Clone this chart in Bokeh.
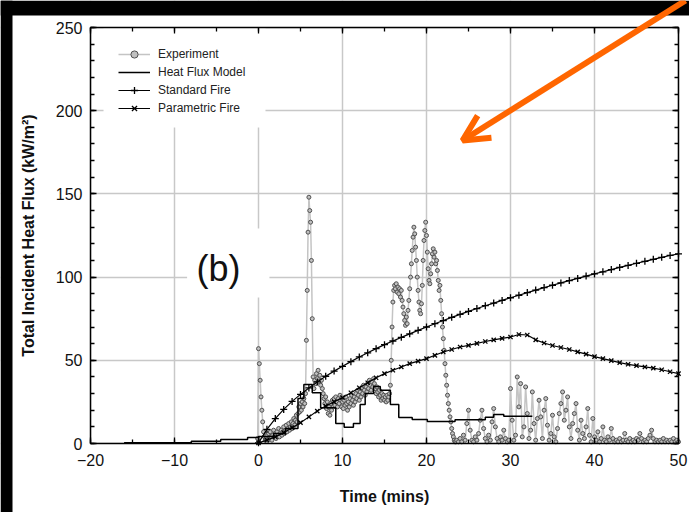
from bokeh.plotting import figure
from bokeh.models import (LinearAxis, Grid, SingleIntervalTicker, Range1d, BoxAnnotation,
                          Arrow, OpenHead, Label, Legend, LegendItem, CustomJSTickFormatter)
from bokeh.embed import file_html
from bokeh.resources import INLINE

# ---------------- data ----------------
# Experiment, part A: sampled every 0.1 min from -0.1 min
exp_a_start, exp_a_step = -0.1, 0.1
exp_a_flux = [3,
    57, 48, 38, 28, 20, 13, 7, 4, 2, 3,
    5, 2, 6, 3, 7, 4, 2, 5, 8, 4,
    6, 3, 7, 5, 9, 4, 6, 8, 5, 7,
    10, 6, 8, 11, 7, 9, 12, 8, 10, 13,
    9, 12, 15, 11, 14, 17, 13, 18, 22, 19,
    24, 20, 25, 22, 27, 24, 30, 62, 92, 127,
    148, 140, 133, 110, 75, 40, 33, 38, 36, 42,
    39, 44, 37, 41, 35, 38, 33, 30, 27, 24,
    28, 21, 25, 18, 22, 17, 24, 20, 26, 22,
    27, 23, 28, 25, 22, 27, 24, 29, 26, 22,
    25, 21, 26, 23, 28, 24, 20, 25, 22, 27,
    24, 29, 26, 23, 28, 25, 30, 27, 32, 29,
    26, 31, 28, 33, 30, 35, 32, 29, 34, 31,
    36, 33, 38, 35, 32, 37, 34, 39, 36, 33,
    30, 34, 31, 28, 32, 29, 26, 30, 27, 29,
    26, 28, 25, 29, 26, 28, 30, 35, 50, 70,
    85, 92, 95, 93, 96, 91, 94, 90, 93, 88,
    92, 86, 82, 78, 74, 71, 76, 72, 80, 86,
    93, 100, 108, 116, 124, 130, 126, 118, 110, 100,
    92, 85, 80, 78, 84, 95, 110, 122, 128, 133,
    125, 115, 105, 98, 96, 102, 108, 114, 117, 112,
    115, 108, 110, 104, 98, 92, 95, 86, 78, 70,
    63, 56, 48, 41, 35, 29, 24, 20, 16, 13,
    9, 6, 4, 2, 1, 1]
# Experiment, part B: sampled every 0.2 min from 23.6 min
exp_b_start, exp_b_step = 23.6, 0.2
exp_b_flux = [
    2, 1, 3, 1, 5, 2, 12, 20, 8, 2,
    1, 4, 2, 6, 14, 20, 9, 3, 1, 5,
    2, 13, 21, 10, 3, 1, 4, 2, 8, 3,
    1, 2, 33, 14, 2, 5, 40, 22, 36, 4,
    10, 34, 18, 3, 8, 31, 12, 2, 15, 26,
    16, 3, 20, 27, 11, 2, 6, 17, 4, 1,
    9, 18, 24, 31, 14, 20, 28, 10, 3, 12,
    18, 24, 8, 2, 14, 6, 3, 10, 21, 5,
    1, 15, 4, 2, 7, 1, 3, 10, 2, 1,
    4, 2, 9, 3, 1, 2, 1, 3, 1, 2,
    6, 2, 1, 3, 1, 2, 1, 3, 2, 6,
    3, 1, 2, 1, 3, 5, 8, 3, 1, 2,
    1, 2, 1, 3, 1, 2, 1, 2, 1, 3,
    1, 2, 1]

model_time = [-16, -8, -4.5, -1.3, 0, 1.8, 3.2, 4.7, 5.4, 6.4, 7.4, 9.2, 10.2, 11.3,
              12.1, 12.7, 13.7, 14.5, 15.7, 16.7, 18.3, 20.1, 23.4, 27, 28, 29.2, 32.6]
model_flux = [0.4, 1.4, 2.4, 3.6, 4.2, 6, 9, 27, 35.5, 30.5, 21.5, 12, 9.7, 12,
              23.5, 30, 34.3, 32, 23.5, 15.6, 14.4, 13.2, 14.2, 15.8, 17.4, 16.4, 16.4]

fire_time = list(range(0, 51))
standard_flux = [0.4, 8.5, 15, 20.5, 25.3, 29.5, 33.4, 37, 40.4, 43.5,
                 46.4, 49.2, 52, 54.5, 57, 59.4, 61.6, 63.8, 65.9, 68,
                 70, 72, 73.9, 75.8, 77.6, 79.4, 81.1, 82.8, 84.4, 86,
                 87.6, 89.1, 90.7, 92.2, 93.7, 95.1, 96.5, 97.9, 99.2, 100.6,
                 101.9, 103.2, 104.5, 105.8, 107, 108.3, 109.5, 110.7, 111.9, 113,
                 114]
parametric_flux = [0.4, 2, 4, 6.5, 9.5, 12.5, 16, 19.5, 22.5, 25,
                   27.6, 30.5, 33.5, 36.5, 39.5, 42, 44, 46, 48, 49.5,
                   51, 53, 55, 56.5, 58, 59, 60.2, 61.3, 62.3, 63.2,
                   64, 65.5, 65.2, 62.3, 60.4, 58.9, 57.7, 56.5, 55.1, 53.7,
                   52.2, 51, 49.8, 48.6, 47.6, 46.8, 46, 45.3, 44.3, 43.1,
                   42]

legend_labels = ["Experiment", "Heat Flux Model", "Standard Fire", "Parametric Fire"]
x_label = "Time (mins)"
y_label = "Total Incident Heat Flux (kW/m²)"
panel_tag = "(b)"
x_lo, x_hi = -20, 50
y_lo, y_hi = 0, 250

exp_time = ([round(exp_a_start + exp_a_step * i, 2) for i in range(len(exp_a_flux))] +
            [round(exp_b_start + exp_b_step * i, 2) for i in range(len(exp_b_flux))])
exp_flux = exp_a_flux + exp_b_flux

# ---------------- figure (frame spans whole canvas; axes at fixed locations) ----------------
W, H = 689, 512
PX_X = 8.4      # pixels per minute
PX_Y = 1.664    # pixels per kW/m2
LEFT, RIGHT, TOP, BOTTOM = 90, 11, 27, 69
FONT = "Liberation Sans"

p = figure(width=W, height=H,
           x_range=Range1d(x_lo - LEFT / PX_X, x_hi + RIGHT / PX_X),
           y_range=Range1d(y_lo - BOTTOM / PX_Y, y_hi + TOP / PX_Y),
           x_axis_type=None, y_axis_type=None,
           output_backend="svg", toolbar_location=None, min_border=0)
p.background_fill_color = "white"
p.border_fill_color = "white"
p.outline_line_color = None

xt = SingleIntervalTicker(interval=10, num_minor_ticks=2)
yt = SingleIntervalTicker(interval=50, num_minor_ticks=5)

p.add_layout(Grid(dimension=0, ticker=xt, grid_line_color="#c8c8c8", grid_line_width=1.5), "center")
p.add_layout(Grid(dimension=1, ticker=yt, grid_line_color="#c8c8c8", grid_line_width=1.5), "center")

# white covers outside the plotting area and behind legend / panel tag
covers = [dict(bottom=y_hi), dict(top=y_lo), dict(right=x_lo), dict(left=x_hi),
          dict(left=-18.45, right=0.83, bottom=189.9, top=y_hi),
          dict(left=-8.5, right=1.3, bottom=87.7, top=129.2)]
for c in covers:
    p.add_layout(BoxAnnotation(fill_color="white", fill_alpha=1, line_color=None,
                               level="underlay", **c))

empty = CustomJSTickFormatter(code="return ''")
ax_bottom = LinearAxis(ticker=xt, fixed_location=y_lo, bounds=(x_lo, x_hi))
ax_top = LinearAxis(ticker=xt, fixed_location=y_hi, bounds=(x_lo, x_hi), formatter=empty)
ax_left = LinearAxis(ticker=yt, fixed_location=x_lo, bounds=(y_lo, y_hi))
ax_right = LinearAxis(ticker=yt, fixed_location=x_hi, bounds=(y_lo, y_hi), formatter=empty)
p.add_layout(ax_bottom, "below")
p.add_layout(ax_top, "above")
p.add_layout(ax_left, "left")
p.add_layout(ax_right, "right")

for ax in [ax_bottom, ax_top, ax_left, ax_right]:
    ax.axis_line_color = "black"
    ax.axis_line_width = 1.5
    ax.major_tick_line_color = "black"
    ax.minor_tick_line_color = "black"
    ax.major_tick_line_width = 1.3
    ax.minor_tick_line_width = 1.3
    ax.major_tick_in = 6
    ax.major_tick_out = 0
    ax.minor_tick_in = 4
    ax.minor_tick_out = 0
    ax.major_label_text_font = FONT
    ax.major_label_text_font_size = "16px"
    ax.major_label_text_color = "#111111"
    ax.axis_label_text_font = FONT
    ax.axis_label_text_font_size = "16px"
    ax.axis_label_text_font_style = "bold"
    ax.axis_label_text_color = "#111111"

ax_bottom.axis_label = x_label
ax_bottom.major_label_standoff = 10
ax_bottom.axis_label_standoff = 19
ax_left.axis_label = y_label
ax_left.major_label_standoff = 8
ax_left.axis_label_standoff = 16

# ---------------- series ----------------
exp_line = p.line(exp_time, exp_flux, line_color="#c4c4c4", line_width=1.5)
exp_pts = p.scatter(exp_time, exp_flux, marker="circle", size=4,
                    line_color="#505050", fill_color="#c0c0c0", line_width=1)
model_line = p.step(model_time, model_flux, mode="after", line_color="black", line_width=1.5)
std_line = p.line(fire_time, standard_flux, line_color="black", line_width=1.2)
std_pts = p.scatter(fire_time, standard_flux, marker="cross", size=7,
                    line_color="black", line_width=1.3)
par_line = p.line(fire_time, parametric_flux, line_color="black", line_width=1.2)
par_pts = p.scatter(fire_time, parametric_flux, marker="x", size=6,
                    line_color="black", line_width=1.3)

legend = Legend(items=[
    LegendItem(label=legend_labels[0], renderers=[exp_line, exp_pts]),
    LegendItem(label=legend_labels[1], renderers=[model_line]),
    LegendItem(label=legend_labels[2], renderers=[std_line, std_pts]),
    LegendItem(label=legend_labels[3], renderers=[par_line, par_pts]),
], location=(118, H - 45 - 72))
legend.background_fill_alpha = 0
legend.border_line_color = None
legend.padding = 0
legend.margin = 0
legend.spacing = 0
legend.glyph_width = 32
legend.glyph_height = 18
legend.label_height = 18
legend.label_standoff = 8
legend.label_text_font = FONT
legend.label_text_font_size = "12px"
legend.label_text_color = "#222222"
p.add_layout(legend)

p.add_layout(Label(x=-4.76, y=105.2, text=panel_tag, text_font=FONT, text_font_size="36px",
                   text_align="center", text_baseline="middle", text_color="#111111"))

# ---------------- black bands and orange arrow ----------------
for l, r, t, b in [(0, W, 0, 15), (0, 12, 0, H)]:
    p.add_layout(BoxAnnotation(left=l, right=r, top=t, bottom=b,
                               left_units="canvas", right_units="canvas",
                               top_units="canvas", bottom_units="canvas",
                               fill_color="black", fill_alpha=1, line_color=None))

orange = "#ff6600"
p.add_layout(Arrow(end=OpenHead(line_color=orange, line_width=6, size=26),
                   x_start=50.83, y_start=266.2, x_end=24.29, y_end=182.1,
                   line_color=orange, line_width=6))

open("out.html", "w").write(file_html(p, INLINE))
